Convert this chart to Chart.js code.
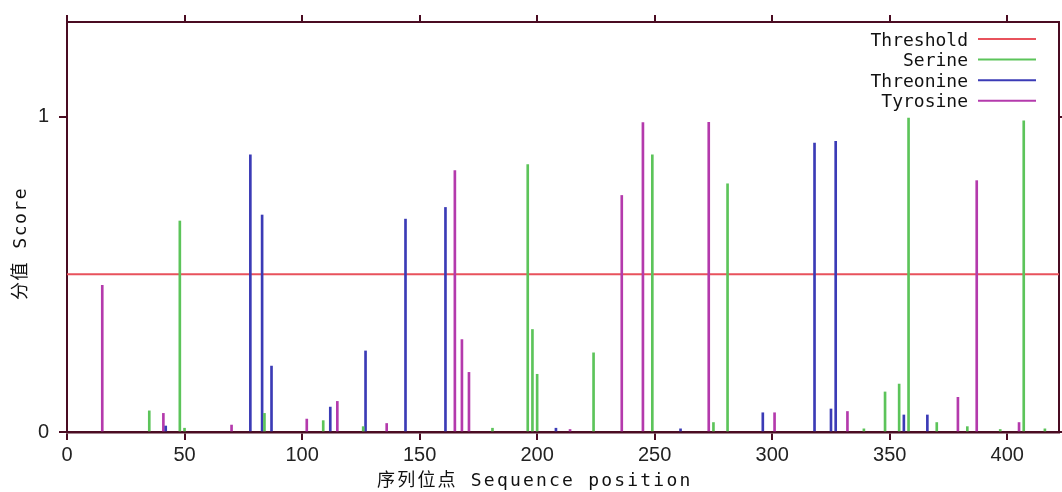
<!DOCTYPE html>
<html>
<head>
<meta charset="utf-8">
<script src="https://cdn.jsdelivr.net/npm/chart.js@4"></script>
<style>
  html, body { margin: 0; padding: 0; background: #fff; }
  #wrap { width: 1062px; height: 492px; }
</style>
</head>
<body>
<div id="wrap"><canvas id="scoreChart" width="1062" height="492"></canvas></div>
<script>
// sequence positions and scores
const serinePos = [35, 48, 50, 84, 109, 126, 181, 196, 198, 200, 224, 249, 275, 281, 339, 348, 354, 358, 370, 383, 397, 407, 416];
const serineVal = [0.067, 0.669, 0.012, 0.059, 0.036, 0.017, 0.012, 0.848, 0.325, 0.183, 0.251, 0.879, 0.030, 0.787, 0.010, 0.127, 0.152, 0.995, 0.030, 0.017, 0.008, 0.987, 0.010];

const threoninePos = [42, 78, 83, 87, 112, 127, 144, 161, 208, 261, 296, 318, 325, 327, 356, 366];
const threonineVal = [0.019, 0.879, 0.688, 0.209, 0.079, 0.257, 0.675, 0.712, 0.012, 0.010, 0.061, 0.916, 0.073, 0.922, 0.054, 0.054];

const tyrosinePos = [15, 41, 70, 102, 115, 136, 165, 168, 171, 214, 236, 245, 273, 301, 332, 379, 387, 405];
const tyrosineVal = [0.465, 0.059, 0.022, 0.041, 0.097, 0.027, 0.829, 0.293, 0.189, 0.008, 0.750, 0.981, 0.982, 0.061, 0.065, 0.110, 0.797, 0.030];

const threshold = 0.5;
const xMax = 422;
const yMax = 1.3;
const xTicks = [0, 50, 100, 150, 200, 250, 300, 350, 400];
const yTicks = [0, 1];

const frameColor = '#4a0c22';
const monoFont = '"DejaVu Sans Mono", "Noto Sans CJK SC", monospace';

function toPoints(pos, val) {
    return pos.map((p, i) => ({ x: p, y: val[i] }));
}

function barSet(label, pos, val, color) {
    return {
        type: 'bar',
        label,
        data: toPoints(pos, val),
        backgroundColor: color,
        borderWidth: 0,
        barThickness: 2,
        grouped: false,
        order: 1
    };
}

// legend drawn text-first like the original
const legendPlugin = {
    id: 'rightLegend',
    afterDraw(chart) {
        const ctx = chart.ctx;
        ctx.save();
        ctx.font = '18px ' + monoFont;
        ctx.textAlign = 'right';
        ctx.textBaseline = 'middle';
        chart.data.datasets.forEach((ds, i) => {
            const y = 41 + i * 20.6;
            ctx.fillStyle = '#111';
            ctx.fillText(ds.label, 968, y);
            ctx.strokeStyle = ds.legendColor || ds.backgroundColor;
            ctx.lineWidth = 2;
            ctx.beginPath();
            ctx.moveTo(978, y - 2);
            ctx.lineTo(1036, y - 2);
            ctx.stroke();
        });
        ctx.restore();
    }
};

// axis titles
const titlePlugin = {
    id: 'axisTitles',
    afterDraw(chart) {
        const ctx = chart.ctx;
        ctx.save();
        ctx.font = '18px ' + monoFont;
        ctx.fillStyle = '#111';
        ctx.letterSpacing = '2.2px';
        ctx.textAlign = 'left';
        ctx.textBaseline = 'middle';
        ctx.fillText('序列位点 Sequence position', 377, 481);
        ctx.letterSpacing = '1.5px';
        ctx.translate(21, 300);
        ctx.rotate(-Math.PI / 2);
        ctx.fillText('分值 Score', 0, 0);
        ctx.restore();
    }
};

const tickFont = { family: '"Liberation Sans", Arial, sans-serif', size: 20 };

function fixTicks(list) {
    return function (scale) { scale.ticks = list.map(v => ({ value: v })); };
}

new Chart(document.getElementById('scoreChart'), {
    type: 'bar',
    data: {
        datasets: [
            {
                type: 'line',
                label: 'Threshold',
                data: [{ x: 0, y: threshold }, { x: xMax, y: threshold }],
                borderColor: '#e8525c',
                legendColor: '#e8525c',
                borderWidth: 2,
                pointRadius: 0,
                order: 5
            },
            barSet('Serine', serinePos, serineVal, '#5cc45a'),
            barSet('Threonine', threoninePos, threonineVal, '#3b3bb6'),
            barSet('Tyrosine', tyrosinePos, tyrosineVal, '#b43aac')
        ]
    },
    options: {
        responsive: false,
        animation: false,
        layout: { padding: 0 },
        plugins: { legend: { display: false }, tooltip: { enabled: false } },
        scales: {
            x: {
                type: 'linear',
                position: 'bottom',
                min: 0,
                max: xMax,
                offset: false,
                afterBuildTicks: fixTicks(xTicks),
                ticks: { font: tickFont, color: '#222', padding: 3, maxRotation: 0 },
                grid: { offset: false, drawOnChartArea: false, tickLength: 8, color: frameColor, lineWidth: 2 },
                border: { color: frameColor, width: 2.5 },
                afterFit(scale) { scale.height = 60; }
            },
            x2: {
                type: 'linear',
                position: 'top',
                min: 0,
                max: xMax,
                offset: false,
                afterBuildTicks: fixTicks(xTicks),
                ticks: { display: false },
                grid: { offset: false, drawOnChartArea: false, tickLength: 7, color: frameColor, lineWidth: 2 },
                border: { color: frameColor, width: 2 },
                afterFit(scale) { scale.height = 20; }
            },
            y: {
                type: 'linear',
                position: 'left',
                min: 0,
                max: yMax,
                afterBuildTicks: fixTicks(yTicks),
                ticks: { font: tickFont, color: '#222', padding: 10 },
                grid: { drawOnChartArea: false, tickLength: 8, color: frameColor, lineWidth: 2 },
                border: { color: frameColor, width: 2 },
                afterFit(scale) { scale.width = 67; }
            },
            y2: {
                type: 'linear',
                position: 'right',
                min: 0,
                max: yMax,
                afterBuildTicks: fixTicks(yTicks),
                ticks: { display: false },
                grid: { drawOnChartArea: false, tickLength: 3, color: frameColor, lineWidth: 2 },
                border: { color: frameColor, width: 2 },
                afterFit(scale) { scale.width = 3; }
            }
        }
    },
    plugins: [legendPlugin, titlePlugin]
});
</script>
</body>
</html>
